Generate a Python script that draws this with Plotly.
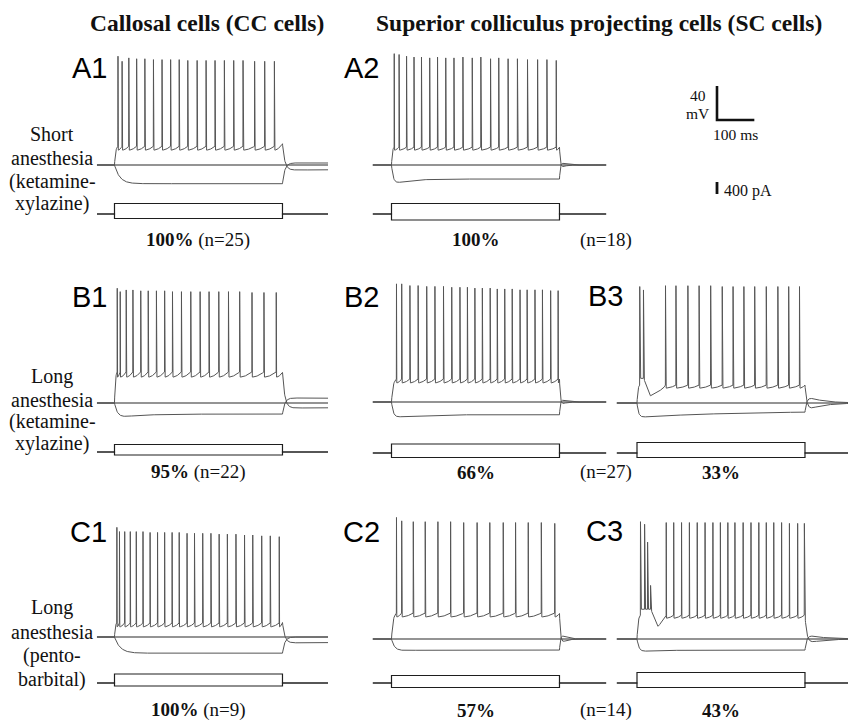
import numpy as np
import plotly.graph_objects as go

W, H = 848, 720
STEP_MS = 450          # duration of the current step
REST_MV = -65          # resting potential

# ---------------- spike times (ms after step onset) & peaks (mV) ----------------
A1_SPIKE_MS = [9, 20, 38, 59, 81, 104, 127, 150, 173, 196, 221, 245, 269, 294, 319, 344, 375, 402, 428]
A1_PEAK_MV = [63, 57, 61, 60, 60, 59, 59, 59, 59, 58, 58, 58, 58, 58, 58, 58, 57, 57, 57]

A2_SPIKE_MS = [7, 20, 40, 60, 80, 102, 123, 145, 167, 191, 216, 239, 265, 287, 312, 337, 364, 391, 416, 441]
A2_PEAK_MV = [66, 65, 63, 62, 62, 61, 62, 61, 61, 62, 61, 62, 60, 61, 60, 60, 59, 59, 59, 58]

B1_SPIKE_MS = [7, 15, 31, 49, 70, 90, 112, 134, 155, 179, 204, 229, 253, 279, 305, 335, 368, 400, 433]
B1_PEAK_MV = [70, 66, 68, 68, 67, 67, 67, 67, 66, 66, 66, 66, 66, 66, 66, 66, 65, 65, 65]

B2_SPIKE_MS = [13, 27, 49, 71, 94, 116, 139, 161, 183, 203, 223, 243, 264, 283, 303, 323, 344, 363, 384, 404, 426, 446]
B2_PEAK_MV = [74, 74, 72, 72, 71, 71, 71, 70, 70, 70, 69, 69, 69, 68, 68, 68, 67, 67, 67, 67, 66, 66]

B3_SPIKE_MS = [7, 17, 76, 104, 136, 166, 197, 228, 257, 286, 315, 346, 377, 406, 435]
B3_PEAK_MV = [72, 68, 73, 73, 73, 73, 73, 72, 72, 72, 72, 72, 72, 72, 72]

C1_SPIKE_MS = [6, 13, 27, 42, 58, 76, 95, 115, 134, 154, 173, 194, 214, 236, 258, 280, 302, 325, 348, 370, 394, 417, 441]
C1_PEAK_MV = [64, 59, 59, 59, 59, 59, 58, 58, 58, 58, 58, 57, 57, 57, 57, 56, 56, 56, 55, 55, 54, 54, 53]

C2_SPIKE_MS = [13, 27, 58, 90, 124, 158, 193, 229, 263, 299, 332, 366, 401, 437]
C2_PEAK_MV = [78, 74, 73, 73, 73, 73, 72, 72, 72, 72, 72, 72, 72, 71]

C3_SPIKE_MS = [9, 20, 28, 36, 78, 98, 119, 140, 161, 182, 203, 223, 243, 262, 284, 305, 326, 346, 366, 387, 408, 430, 448]
C3_PEAK_MV = [73, 70, 49, -2, 72, 72, 72, 72, 72, 72, 72, 72, 72, 72, 72, 72, 72, 72, 72, 72, 71, 71, 71]

# ---------------- membrane levels (mV) and time constants (ms) ----------------
A1_LEVELS = dict(thr=-43, trough=-47.5, end=-40, hss=-87, sag=0, tau_h=14, tau_s=60,
                 post_dep=-71, post_hyp=-62.5, tau_off=6, tau_post=2000)
A2_LEVELS = dict(thr=-44, trough=-47.5, end=-44, hss=-81.5, sag=-7, tau_h=5, tau_s=40,
                 post_dep=-71, post_hyp=-59, tau_off=2.5, tau_post=10)
B1_LEVELS = dict(thr=-28.5, trough=-34.5, end=-29, hss=-78, sag=-5, tau_h=8, tau_s=60,
                 post_dep=-71, post_hyp=-59, tau_off=6, tau_post=2000)
B2_LEVELS = dict(thr=-38, trough=-42.5, end=-38, hss=-80, sag=-4, tau_h=5, tau_s=50,
                 post_dep=-71, post_hyp=-59, tau_off=2.5, tau_post=10)
B3_LEVELS = dict(thr=-44, trough=-47.5, end=-44, hss=-74.5, sag=-7.5, tau_h=4, tau_s=250,
                 post_dep=-75, post_hyp=-56, tau_off=5, tau_post=40,
                 burst=-36, n_burst=2, knots=[(34, -57), (55, -52), (70, -48)])
C1_LEVELS = dict(thr=-48.5, trough=-53, end=-48, hss=-84, sag=0, tau_h=15, tau_s=60,
                 post_dep=-72, post_hyp=-65, tau_off=6, tau_post=2000)
C2_LEVELS = dict(thr=-34.5, trough=-39, end=-35, hss=-78, sag=-1, tau_h=8, tau_s=50,
                 post_dep=-74, post_hyp=-56, tau_off=3, tau_post=12)
C3_LEVELS = dict(thr=-37, trough=-40.5, end=-37, hss=-78, sag=-2, tau_h=5, tau_s=60,
                 post_dep=-71, post_hyp=-59, tau_off=5, tau_post=40,
                 burst=-30, n_burst=4, knots=[(55, -51), (70, -43)])

# ---------------- injected current steps (pA): [depolarising, hyperpolarising] ----------------
A1_STEP_PA = [350, -150]
A2_STEP_PA = [350, -200]
B1_STEP_PA = [250, -100]
B2_STEP_PA = [300, -150]
B3_STEP_PA = [350, -150]
C1_STEP_PA = [300, -100]
C2_STEP_PA = [250, -150]
C3_STEP_PA = [350, -150]

# ---------------- scale bars ----------------
SCALE_MS = 100
SCALE_MV = 40
SCALE_PA = 400

# ---------------- text ----------------
HEADERS = ["Callosal cells (CC cells)", "Superior colliculus projecting cells (SC cells)"]
PANEL_NAMES = ["A1", "A2", "B1", "B2", "B3", "C1", "C2", "C3"]
ROW_LABELS = [["Short", "anesthesia", "(ketamine-", "xylazine)"],
              ["Long", "anesthesia", "(ketamine-", "xylazine)"],
              ["Long", "anesthesia", "(pento-", "barbital)"]]
CC_PERCENT = ["100%", "95%", "100%"]
CC_N = ["(n=25)", "(n=22)", "(n=9)"]
SC_PERCENT_1 = ["100%", "66%", "57%"]
SC_N = ["(n=18)", "(n=27)", "(n=14)"]
SC_PERCENT_2 = [None, "33%", "43%"]

# =====================================================================
# geometry (pixels)
PX_PER_MS = 0.3733
PX_PER_MV = 0.85
PX_PER_PA = 0.03
COL_STEP_PX = [114.5, 391.5, 637.0]
COL_T0 = [-47, -50, -54]
COL_T1 = [572, 575, 575]
ROW_REST_PX = {"A1": 165, "A2": 165, "B1": 403, "B2": 402, "B3": 403, "C1": 637, "C2": 639, "C3": 639}
ROW_BASE_PX = {"A1": 214, "A2": 214, "B1": 452, "B2": 453, "B3": 453, "C1": 683, "C2": 683, "C3": 683}
PANEL_COL = {"A1": 0, "A2": 1, "B1": 0, "B2": 1, "B3": 2, "C1": 0, "C2": 1, "C3": 2}

PANEL_DATA = {
    "A1": (A1_SPIKE_MS, A1_PEAK_MV, A1_LEVELS, A1_STEP_PA),
    "A2": (A2_SPIKE_MS, A2_PEAK_MV, A2_LEVELS, A2_STEP_PA),
    "B1": (B1_SPIKE_MS, B1_PEAK_MV, B1_LEVELS, B1_STEP_PA),
    "B2": (B2_SPIKE_MS, B2_PEAK_MV, B2_LEVELS, B2_STEP_PA),
    "B3": (B3_SPIKE_MS, B3_PEAK_MV, B3_LEVELS, B3_STEP_PA),
    "C1": (C1_SPIKE_MS, C1_PEAK_MV, C1_LEVELS, C1_STEP_PA),
    "C2": (C2_SPIKE_MS, C2_PEAK_MV, C2_LEVELS, C2_STEP_PA),
    "C3": (C3_SPIKE_MS, C3_PEAK_MV, C3_LEVELS, C3_STEP_PA),
}


def smooth(v, k):
    if len(v) < k + 2:
        return v
    pad = k // 2
    vp = np.concatenate([np.full(pad, v[0]), v, np.full(pad, v[-1])])
    out = np.convolve(vp, np.ones(k) / k, mode="valid")
    out[0] = v[0]
    out[-1] = v[-1]
    return out


def ramp(a, b, va, vb, knots, expo=1.8):
    n = max(int((b - a) / 0.5), 4)
    t = np.linspace(a, b, n)
    inner = [k for k in knots if a < k[0] < b]
    if inner:
        kt = [a] + [k[0] for k in inner] + [b]
        kv = [va] + [k[1] for k in inner] + [vb]
        v = smooth(np.interp(t, kt, kv), 11)
    else:
        u = (t - a) / (b - a)
        v = va + (vb - va) * u ** expo
    return t, v


def post_step(v_end, target, lv, t1):
    dt = np.linspace(0, t1 - STEP_MS, 260)
    e = np.exp(-dt / lv["tau_off"])
    v = REST_MV + (v_end - REST_MV) * e + (target - REST_MV) * (1 - e) * np.exp(-dt / lv["tau_post"])
    return STEP_MS + dt, v


def depol_trace(spikes, peaks, lv, t0, t1):
    rest = REST_MV
    ts = [np.array([t0, 0.0])]
    vs = [np.array([rest, rest])]
    s0 = spikes[0]
    tau = max(s0 / 3.0, 1.0)
    t = np.linspace(0, s0, 16)
    v = rest + (lv["thr"] - rest) * (1 - np.exp(-t / tau)) / (1 - np.exp(-s0 / tau))
    ts.append(t); vs.append(v)
    nb = lv.get("n_burst", 0)
    knots = lv.get("knots", [])
    for i, (s, p) in enumerate(zip(spikes, peaks)):
        ts.append(np.array([s + 0.35])); vs.append(np.array([p]))
        a = s + 1.2
        if i + 1 < len(spikes):
            b = spikes[i + 1]
            vb = lv["burst"] if i + 1 < nb else lv["thr"]
        else:
            b = STEP_MS
            vb = lv["end"]
        va = lv["burst"] if i < nb else lv["trough"]
        t, v = ramp(a, b, va, vb, knots)
        ts.append(t); vs.append(v)
    v_end = vs[-1][-1]
    t, v = post_step(v_end, lv["post_dep"], lv, t1)
    ts.append(t); vs.append(v)
    return np.concatenate(ts), np.concatenate(vs)


def hyper_trace(lv, t0, t1):
    t = np.linspace(0, STEP_MS, 500)
    hss = lv["hss"]
    eh = np.exp(-t / lv["tau_h"])
    v = hss + (REST_MV - hss) * eh + lv["sag"] * (1 - eh) * np.exp(-t / lv["tau_s"])
    tp, vp = post_step(v[-1], lv["post_hyp"], lv, t1)
    return (np.concatenate([[t0], t, tp]), np.concatenate([[REST_MV], v, vp]))


fig = go.Figure()
layout_axes = {}
V_RANGE = [-110, 90]
I_RANGE = [-500, 600]
X_LEFT_MS = -62
X_RIGHT_MS = 580

trace_col = "#555555"
rest_col = "#2a2a2a"
cur_col = "#1e1e1e"

ax_i = 0
for name in PANEL_NAMES:
    spikes, peaks, lv, step_pa = PANEL_DATA[name]
    col = PANEL_COL[name]
    sp = COL_STEP_PX[col]
    t0, t1 = COL_T0[col], COL_T1[col]
    left_px = sp + X_LEFT_MS * PX_PER_MS
    right_px = sp + X_RIGHT_MS * PX_PER_MS
    xr = [X_LEFT_MS, X_RIGHT_MS]
    if right_px > W:
        xr[1] = (W - sp) / PX_PER_MS
        right_px = W
    xdom = [left_px / W, right_px / W]

    # voltage axes
    rest_px = ROW_REST_PX[name]
    top_px = rest_px - (V_RANGE[1] - REST_MV) * PX_PER_MV
    bot_px = rest_px + (REST_MV - V_RANGE[0]) * PX_PER_MV
    ax_i += 1
    vx, vy = ax_i, ax_i
    layout_axes[f"xaxis{vx}"] = dict(domain=xdom, range=xr, visible=False, anchor=f"y{vy}", fixedrange=True)
    layout_axes[f"yaxis{vy}"] = dict(domain=[1 - bot_px / H, 1 - top_px / H], range=V_RANGE,
                                     visible=False, anchor=f"x{vx}", fixedrange=True)
    xa, ya = f"x{vx}", f"y{vy}"

    # zero-current trace
    fig.add_trace(go.Scatter(x=[t0, t1], y=[REST_MV, REST_MV], mode="lines",
                             line=dict(color=rest_col, width=1.1), xaxis=xa, yaxis=ya, hoverinfo="skip"))
    th, vh = hyper_trace(lv, t0, t1)
    fig.add_trace(go.Scatter(x=th, y=vh, mode="lines", line=dict(color=trace_col, width=1),
                             xaxis=xa, yaxis=ya, hoverinfo="skip"))
    td, vd = depol_trace(spikes, peaks, lv, t0, t1)
    fig.add_trace(go.Scatter(x=td, y=vd, mode="lines", line=dict(color=trace_col, width=1),
                             xaxis=xa, yaxis=ya, hoverinfo="skip"))

    # current axes
    base_px = ROW_BASE_PX[name]
    ctop = base_px - I_RANGE[1] * PX_PER_PA
    cbot = base_px - I_RANGE[0] * PX_PER_PA
    ax_i += 1
    layout_axes[f"xaxis{ax_i}"] = dict(domain=xdom, range=xr, visible=False, anchor=f"y{ax_i}", fixedrange=True)
    layout_axes[f"yaxis{ax_i}"] = dict(domain=[1 - cbot / H, 1 - ctop / H], range=I_RANGE,
                                       visible=False, anchor=f"x{ax_i}", fixedrange=True)
    cx, cy = f"x{ax_i}", f"y{ax_i}"
    for amp in step_pa:
        fig.add_trace(go.Scatter(x=[t0, 0, 0, STEP_MS, STEP_MS, t1], y=[0, 0, amp, amp, 0, 0],
                                 mode="lines", line=dict(color=cur_col, width=1.2),
                                 xaxis=cx, yaxis=cy, hoverinfo="skip"))

# ---- scale bar axes ----
bar_x0_px, bar_y0_px = 717, 120
ax_i += 1
sx0, sx1 = 705, 790
sy0, sy1 = 80, 126
layout_axes[f"xaxis{ax_i}"] = dict(domain=[sx0 / W, sx1 / W],
                                   range=[(sx0 - bar_x0_px) / PX_PER_MS, (sx1 - bar_x0_px) / PX_PER_MS],
                                   visible=False, anchor=f"y{ax_i}", fixedrange=True)
layout_axes[f"yaxis{ax_i}"] = dict(domain=[1 - sy1 / H, 1 - sy0 / H],
                                   range=[-(sy1 - bar_y0_px) / PX_PER_MV, (bar_y0_px - sy0) / PX_PER_MV],
                                   visible=False, anchor=f"x{ax_i}", fixedrange=True)
fig.add_trace(go.Scatter(x=[0, 0, SCALE_MS], y=[SCALE_MV, 0, 0], mode="lines",
                         line=dict(color="#111", width=2.6), xaxis=f"x{ax_i}", yaxis=f"y{ax_i}",
                         hoverinfo="skip"))

pa_x_px, pa_y0_px = 717, 194
ax_i += 1
px0, px1 = 712, 722
py0, py1 = 176, 200
layout_axes[f"xaxis{ax_i}"] = dict(domain=[px0 / W, px1 / W], range=[-1, 1],
                                   visible=False, anchor=f"y{ax_i}", fixedrange=True)
layout_axes[f"yaxis{ax_i}"] = dict(domain=[1 - py1 / H, 1 - py0 / H],
                                   range=[-(py1 - pa_y0_px) / PX_PER_PA, (pa_y0_px - py0) / PX_PER_PA],
                                   visible=False, anchor=f"x{ax_i}", fixedrange=True)
fig.add_trace(go.Scatter(x=[0, 0], y=[0, SCALE_PA], mode="lines",
                         line=dict(color="#111", width=2.8), xaxis=f"x{ax_i}", yaxis=f"y{ax_i}",
                         hoverinfo="skip"))

# ---- annotations ----
ann = []


def add_text(text, x, y, size, family="Liberation Serif", xanchor="center", color="#111"):
    ann.append(dict(text=text, x=x / W, y=1 - y / H, xref="paper", yref="paper",
                    xanchor=xanchor, yanchor="middle", showarrow=False,
                    font=dict(family=family, size=size, color=color)))


add_text(f"<b>{HEADERS[0]}</b>", 207, 23, 23.5)
add_text(f"<b>{HEADERS[1]}</b>", 599, 23, 23.5)

letter_pos = {"A1": (89, 68), "A2": (361, 68), "B1": (89, 297), "B2": (361, 297), "B3": (605, 296),
              "C1": (88, 532), "C2": (361, 532), "C3": (604, 531)}
for name in PANEL_NAMES:
    x, y = letter_pos[name]
    add_text(name, x, y, 29, family="Liberation Sans", color="#000")

row_label_y = [[134, 158, 181, 203], [376, 400, 421, 443], [607, 632, 655, 679]]
for lines, ys in zip(ROW_LABELS, row_label_y):
    for txt, y in zip(lines, ys):
        add_text(txt, 52, y, 20)

pct_y = [240, 472, 710]
for r in range(3):
    add_text(f"<b>{CC_PERCENT[r]}</b> {CC_N[r]}", 198, pct_y[r], 19)
    add_text(f"<b>{SC_PERCENT_1[r]}</b>", 476, pct_y[r], 19)
    add_text(SC_N[r], 606, pct_y[r], 19)
    if SC_PERCENT_2[r]:
        add_text(f"<b>{SC_PERCENT_2[r]}</b>", 721, pct_y[r], 19)

add_text(str(SCALE_MV), 698, 96, 15.5)
add_text("mV", 698, 113, 15.5)
add_text(f"{SCALE_MS} ms", 735, 134, 15.5)
add_text(f"{SCALE_PA} pA", 748, 191, 16)

fig.update_layout(width=W, height=H, margin=dict(l=0, r=0, t=0, b=0),
                  paper_bgcolor="white", plot_bgcolor="white", showlegend=False,
                  hovermode=False, annotations=ann, **layout_axes)

fig.write_html("out.html", config={"displayModeBar": False, "staticPlot": True},
               post_script="document.body.style.margin='0px';document.body.style.overflow='hidden';")
